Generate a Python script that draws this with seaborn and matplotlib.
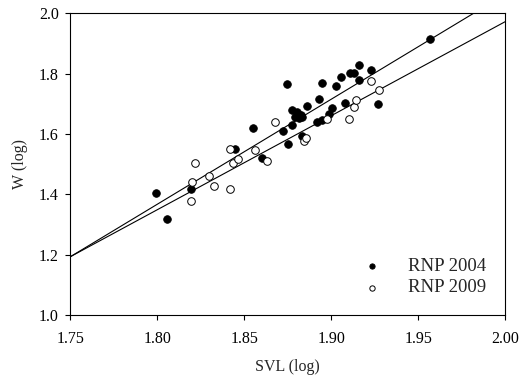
import numpy as np
import seaborn as sns
import matplotlib.pyplot as plt

# RNP 2004 (filled)
svl_2004 = [1.7992, 1.8057, 1.8192, 1.8449, 1.8551, 1.8599, 1.8720, 1.8747, 1.8749,
            1.8772, 1.8774, 1.8789, 1.8805, 1.8812, 1.8826, 1.8834, 1.8831, 1.8862,
            1.8920, 1.8930, 1.8945, 1.8945, 1.8985, 1.9003, 1.9028, 1.9055, 1.9081,
            1.9107, 1.9133, 1.9162, 1.9162, 1.9226, 1.9268, 1.9566]
w_2004 = [1.404, 1.317, 1.417, 1.551, 1.618, 1.520, 1.610, 1.767, 1.566,
          1.630, 1.679, 1.655, 1.674, 1.652, 1.662, 1.655, 1.593, 1.692,
          1.639, 1.717, 1.646, 1.769, 1.665, 1.687, 1.759, 1.790, 1.703,
          1.802, 1.801, 1.827, 1.777, 1.812, 1.698, 1.913]

# RNP 2009 (open)
svl_2009 = [1.8200, 1.8192, 1.8219, 1.8297, 1.8328, 1.8418, 1.8420, 1.8436, 1.8461,
            1.8559, 1.8632, 1.8674, 1.8841, 1.8853, 1.8974, 1.9099, 1.9132, 1.9141,
            1.9229, 1.9277]
w_2009 = [1.441, 1.378, 1.503, 1.459, 1.427, 1.417, 1.550, 1.503, 1.518,
          1.546, 1.511, 1.641, 1.577, 1.588, 1.650, 1.648, 1.690, 1.713,
          1.774, 1.746]

# fitted lines (intercept, slope)
fit_2004 = (-4.897, 3.48)
fit_2009 = (-4.260, 3.116)

sns.set_style('ticks')
plt.rcParams['font.family'] = ['Liberation Serif', 'DejaVu Serif']

fig = plt.figure(figsize=(5.2, 3.78), dpi=100)
ax = fig.add_axes([0.1355, 0.167, 0.836, 0.798])

sns.scatterplot(x=svl_2004, y=w_2004, color='black', edgecolor='black', s=30,
                linewidth=0.6, label='RNP 2004', ax=ax, zorder=3)
sns.scatterplot(x=svl_2009, y=w_2009, color='white', edgecolor='black', s=30,
                linewidth=0.7, label='RNP 2009', ax=ax, zorder=3)

xx = np.array([1.75, 2.0])
ax.plot(xx, fit_2004[0] + fit_2004[1] * xx, color='black', lw=0.8, zorder=2)
ax.plot(xx, fit_2009[0] + fit_2009[1] * xx, color='black', lw=0.8, zorder=2)

ax.set_xlim(1.75, 2.0)
ax.set_ylim(1.0, 2.0)
ax.set_xticks([1.75, 1.80, 1.85, 1.90, 1.95, 2.00])
ax.set_xticklabels(['1.75', '1.80', '1.85', '1.90', '1.95', '2.00'])
ax.set_yticks([1.0, 1.2, 1.4, 1.6, 1.8, 2.0])
ax.set_yticklabels(['1.0', '1.2', '1.4', '1.6', '1.8', '2.0'])
ax.tick_params(direction='out', length=3.5, width=0.8, labelsize=11.5, colors='black')
ax.tick_params(axis='x', pad=8)
ax.tick_params(axis='y', pad=5)
for s in ax.spines.values():
    s.set_linewidth(0.8)
    s.set_color('black')
    s.set_visible(True)

ax.set_xlabel('SVL (log)', fontsize=11.5, labelpad=9)
ax.set_ylabel('W (log)', fontsize=11.5, labelpad=8)

ax.legend(loc='lower right', bbox_to_anchor=(0.995, 0.005), frameon=False,
          fontsize=13.5, handletextpad=0.9, labelspacing=0.25, markerscale=0.7)

fig.savefig('out.png', dpi=100)
